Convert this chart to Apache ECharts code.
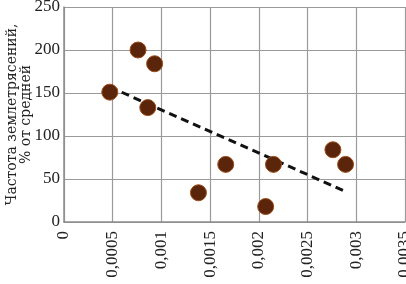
<!DOCTYPE html>
<html><head><meta charset="utf-8">
<script src="https://cdn.jsdelivr.net/npm/echarts@6/dist/echarts.min.js"></script>
<style>html,body{margin:0;padding:0;background:#fff}#c{width:406px;height:284px}</style>
</head><body><div id="c"></div>
<script>
var pointsX = [0.00047, 0.00076, 0.00093, 0.00086, 0.00138, 0.00166, 0.00215, 0.00207, 0.00276, 0.00289];
var pointsY = [151, 200, 184, 133, 34, 67, 67, 18, 84, 67];
var trendX = [0.00047, 0.0029];
var trendY = [157, 35];
var xTickLabels = ['0', '0,0005', '0,001', '0,0015', '0,002', '0,0025', '0,003', '0,0035'];
var yTickLabels = ['0', '50', '100', '150', '200', '250'];
var yTitle = 'Частота землетрясений,\n% от средней';

var FONT = 'Liberation Serif';
var TFONT = 'DejaVu Serif';
var chart = echarts.init(document.getElementById('c'));
chart.setOption({
  animation: false,
  grid: {left: 64, right: 1, top: 7, bottom: 62, containLabel: false, outerBoundsMode: 'none'},
  xAxis: {
    type: 'value', min: 0, max: 0.0035, interval: 0.0005,
    axisLine: {show: true, lineStyle: {color: '#8c8c8c', width: 1.5}},
    axisTick: {show: false},
    splitLine: {show: true, lineStyle: {color: '#9a9a9a', width: 1.2}},
    axisLabel: {
      rotate: 90, margin: 9, color: '#222', fontFamily: FONT, fontSize: 17,
      formatter: function (v) { return xTickLabels[Math.round(v / 0.0005)]; }
    }
  },
  yAxis: {
    type: 'value', min: 0, max: 250, interval: 50,
    axisLine: {show: true, lineStyle: {color: '#8c8c8c', width: 1.5}},
    axisTick: {show: false},
    splitLine: {show: true, lineStyle: {color: '#9a9a9a', width: 1.2}},
    axisLabel: {
      margin: 4, color: '#222', fontFamily: FONT, fontSize: 17,
      formatter: function (v) { return yTickLabels[Math.round(v / 50)]; }
    },
    name: yTitle, nameLocation: 'middle', nameRotate: 90, nameGap: 31,
    nameMoveOverlap: false,
    nameTextStyle: {color: '#222', fontFamily: TFONT, fontSize: 14, lineHeight: 14}
  },
  series: [
    {
      type: 'line', data: trendX.map(function (x, i) { return [x, trendY[i]]; }),
      symbol: 'none', z: 3,
      lineStyle: {color: '#111', width: 3, type: [8, 5]}
    },
    {
      type: 'scatter', data: pointsX.map(function (x, i) { return [x, pointsY[i]]; }),
      symbolSize: 16, z: 4,
      itemStyle: {color: '#5a250a', borderColor: '#9a4c1c', borderWidth: 1, opacity: 1}
    }
  ]
});
</script></body></html>
